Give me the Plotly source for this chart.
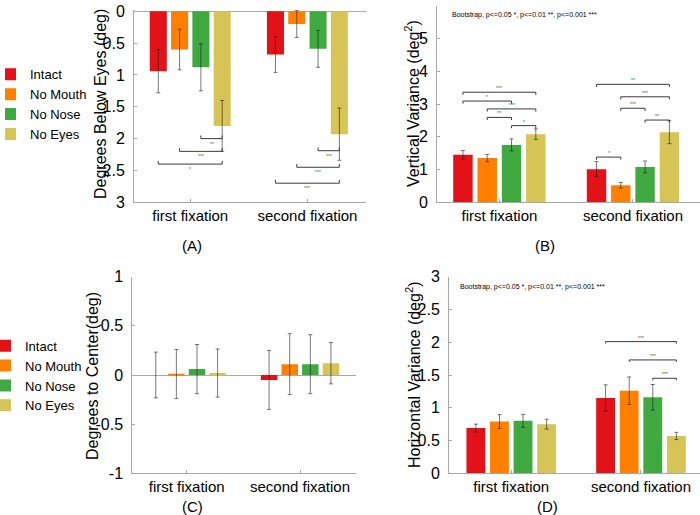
import plotly.graph_objects as go

# ---------------- data ----------------
conditions = ["Intact", "No Mouth", "No Nose", "No Eyes"]
fixations = ["first fixation", "second fixation"]
group_pos = [1, 2]
colors = ["#E21218", "#FF8000", "#40AA40", "#D6C456"]

# (A) degrees below eyes  [condition][fixation]
a_mean = [[0.94, 0.68], [0.60, 0.20], [0.88, 0.59], [1.80, 1.93]]
a_err = [[0.34, 0.28], [0.32, 0.21], [0.37, 0.29], [0.40, 0.41]]
# (B) vertical variance
b_mean = [[1.45, 1.01], [1.35, 0.52], [1.75, 1.08], [2.08, 2.14]]
b_err = [[0.13, 0.23], [0.11, 0.085], [0.185, 0.18], [0.16, 0.35]]
# (C) degrees to center
c_mean = [[0.0, -0.05], [0.01, 0.11], [0.06, 0.11], [0.02, 0.12]]
c_err = [[0.233, 0.30], [0.25, 0.31], [0.25, 0.30], [0.245, 0.21]]
# (D) horizontal variance
d_mean = [[0.69, 1.15], [0.79, 1.26], [0.80, 1.16], [0.75, 0.57]]
d_err = [[0.06, 0.20], [0.105, 0.21], [0.10, 0.195], [0.075, 0.055]]

# significance brackets: (fixation index, cond i, cond j, level, label)
a_sig = [(0, 2, 3, 2.0, "**"), (0, 1, 3, 2.2, "***"), (0, 0, 3, 2.4, "*"),
         (1, 2, 3, 2.19, "***"), (1, 1, 3, 2.45, "***"), (1, 0, 3, 2.7, "***")]
b_sig = [(0, 0, 3, 3.36, "***"), (0, 0, 2, 3.09, "*"), (0, 1, 3, 2.85, "***"),
         (0, 1, 2, 2.59, "**"), (0, 2, 3, 2.34, "*"),
         (1, 0, 3, 3.60, "**"), (1, 1, 3, 3.22, "***"), (1, 1, 2, 2.87, "***"),
         (1, 2, 3, 2.51, "**"), (1, 0, 1, 1.38, "*")]
d_sig = [(1, 0, 3, 2.01, "***"), (1, 1, 3, 1.73, "***"), (1, 2, 3, 1.45, "***")]

a_ticks = [0, 0.5, 1, 1.5, 2, 2.5, 3]
a_ticktext = ["0", "0.5", "1", "1.5", "2", "2.5", "3"]
b_ticks = [0, 1, 2, 3, 4, 5, 6]
c_ticks = [-1, -0.5, 0, 0.5, 1]
c_ticktext = ["-1", "-0.5", "0", "0.5", "1"]
d_ticks = [0, 0.5, 1, 1.5, 2, 2.5, 3]
d_ticktext = ["0", "0.5", "1", "1.5", "2", "2.5", "3"]

note = "Bootstrap, p<=0.05 *, p<=0.01 **, p<=0.001 ***"

# ---------------- style ----------------
W, H = 700, 515
FONT = "Liberation Sans, Arial, Helvetica, sans-serif"
BARGAP = 1 - 4 / 5.5
AXC = "#a8a8a8"
ERRC = "rgba(30,30,30,0.6)"


def px(x):
    return x / W


def py(y):
    return 1 - y / H


fig = go.Figure()


def add_bars(means, errs, xa, ya, legend_name=None):
    for k, cond in enumerate(conditions):
        fig.add_trace(go.Bar(
            x=group_pos, y=means[k], name=cond,
            marker=dict(color=colors[k], line=dict(width=0)),
            error_y=dict(type="data", array=errs[k], visible=True,
                         color=ERRC, thickness=1, width=2),
            xaxis=xa, yaxis=ya,
            showlegend=legend_name is not None,
            legend=legend_name if legend_name else "legend",
            hoverinfo="skip"))


slot = (1 - BARGAP) / len(conditions)


def bar_x(g, k):
    return group_pos[g] + (k - (len(conditions) - 1) / 2) * slot


def add_brackets(sigs, xa, ya, tick, label_dy):
    for g, i, j, level, label in sigs:
        x1, x2 = bar_x(g, i), bar_x(g, j)
        fig.add_trace(go.Scatter(
            x=[x1, x1, x2, x2], y=[level - tick, level, level, level - tick],
            mode="lines", line=dict(color="#3a3a3a", width=1),
            xaxis=xa, yaxis=ya, showlegend=False, hoverinfo="skip"))
        fig.add_annotation(x=(x1 + x2) / 2, y=level + label_dy, text=label,
                           xref=xa, yref=ya, showarrow=False,
                           font=dict(size=5, color="#555"))


add_bars(a_mean, a_err, "x", "y", "legend")
add_bars(b_mean, b_err, "x2", "y2")
add_bars(c_mean, c_err, "x3", "y3", "legend2")
add_bars(d_mean, d_err, "x4", "y4")
add_brackets(a_sig, "x", "y", 0.05, 0.08)
add_brackets(b_sig, "x2", "y2", 0.08, 0.12)
add_brackets(d_sig, "x4", "y4", 0.03, 0.06)


def xaxis(domain, rng, anchor):
    return dict(domain=domain, range=rng, anchor=anchor,
                tickvals=group_pos, ticktext=fixations,
                showline=True, linecolor=AXC, linewidth=1,
                ticks="inside", ticklen=3, tickcolor=AXC,
                showgrid=False, zeroline=False, automargin=False,
                tickfont=dict(size=15, color="black"))


def yaxis(domain, rng, anchor, tv, tt=None, zl=False):
    d = dict(domain=domain, range=rng, anchor=anchor,
             tickvals=tv, showline=True, linecolor=AXC, linewidth=1,
             ticks="inside", ticklen=3, tickcolor=AXC,
             showgrid=False, zeroline=zl, zerolinecolor=AXC, zerolinewidth=1,
             ticklabelstandoff=5, automargin=False,
             tickfont=dict(size=16, color="black"))
    if tt is not None:
        d["ticktext"] = tt
    return d


annotations = list(fig.layout.annotations)


def text_ann(x, y, text, size, angle=0, xanchor="center"):
    annotations.append(dict(x=px(x), y=py(y), xref="paper", yref="paper",
                            text=text, showarrow=False, textangle=angle,
                            xanchor=xanchor, yanchor="middle",
                            font=dict(size=size, color="black", family=FONT)))


# axis titles
text_ann(100, 104, "Degrees Below Eyes (deg)", 16, -90)
text_ann(412, 103, "Vertical Variance (deg<sup>2</sup>)", 16, -90)
text_ann(92, 376, "Degrees to Center(deg)", 16, -90)
text_ann(413, 375, "Horizontal Variance (deg<sup>2</sup>)", 16, -90)
# panel labels
text_ann(192, 245, "(A)", 15)
text_ann(545, 245, "(B)", 15)
text_ann(192, 506, "(C)", 15)
text_ann(547, 506, "(D)", 15)
# notes
text_ann(450, 15, note, 7, xanchor="left")
text_ann(458, 287, note, 7, xanchor="left")

fig.update_layout(
    width=W, height=H,
    margin=dict(l=0, r=0, t=0, b=0, autoexpand=False),
    paper_bgcolor="white", plot_bgcolor="white",
    font=dict(family=FONT, color="black"),
    barmode="group", bargap=BARGAP, bargroupgap=0.2,
    xaxis=xaxis([px(134), px(366)], [0.52, 2.5], "y"),
    yaxis=yaxis([py(202.3), py(10.0)], [3, -0.02], "x", a_ticks, a_ticktext, zl=True),
    xaxis2=xaxis([px(437), 1.0], [0.533, 2.502], "y2"),
    yaxis2=yaxis([py(202.3), py(5.7)], [0, 6], "x2", b_ticks),
    xaxis3=xaxis([px(132.3), px(356)], [0.52, 2.494], "y3"),
    yaxis3=yaxis([py(473.3), py(276.7)], [-1, 1], "x3", c_ticks, c_ticktext, zl=True),
    xaxis4=xaxis([px(449), 1.0], [0.52, 2.455], "y4"),
    yaxis4=yaxis([py(473.3), py(276.7)], [0, 3], "x4", d_ticks, d_ticktext),
    legend=dict(x=px(5), y=py(104.3), xanchor="left", yanchor="middle",
                indentation=-15,
                font=dict(size=13, color="black"), bgcolor="rgba(0,0,0,0)",
                traceorder="normal"),
    legend2=dict(x=0, y=py(375.7), xanchor="left", yanchor="middle",
                 indentation=-15,
                 font=dict(size=13, color="black"), bgcolor="rgba(0,0,0,0)",
                 traceorder="normal"),
    annotations=annotations,
    showlegend=True,
)

fig.write_html("out.html",
               config={"displayModeBar": False},
               post_script="document.body.style.margin='0';")
